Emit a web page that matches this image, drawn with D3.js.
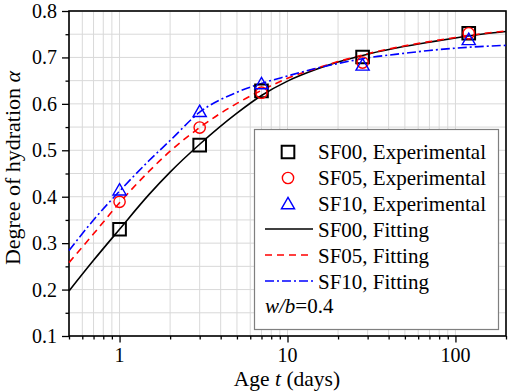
<!DOCTYPE html>
<html lang="en">
<head>
<meta charset="UTF-8">
<title>Degree of hydration</title>
<script src="https://d3js.org/d3.v7.min.js"></script>
<style>
  body { margin: 0; background: #fff; }
  text { font-family: "Liberation Serif", "Times New Roman", serif; fill: #000; }
  .grid line { stroke: #d9d9d9; stroke-width: 1; }
</style>
</head>
<body>
<svg id="chart" width="510" height="392"></svg>
<script>
// experimental ages (days) and measured values
const expAges = [1, 3, 7, 28, 120];
const sf00Exp = [0.330, 0.511, 0.628, 0.701, 0.752];
const sf05Exp = [0.389, 0.549, 0.624, 0.689, 0.752];
const sf10Exp = [0.414, 0.583, 0.643, 0.683, 0.738];

// fitting curves
const fitAges = [0.5, 0.7, 1, 1.5, 2, 3, 5, 7, 10, 15, 20, 30, 50, 70, 100, 150, 200];
const sf00Fit = [0.197, 0.263, 0.330, 0.405, 0.453, 0.513, 0.580, 0.618, 0.649, 0.675, 0.690, 0.707, 0.724, 0.733, 0.742, 0.751, 0.756];
const sf05Fit = [0.258, 0.320, 0.387, 0.455, 0.498, 0.549, 0.601, 0.629, 0.655, 0.677, 0.691, 0.708, 0.725, 0.734, 0.743, 0.752, 0.757];
const sf10Fit = [0.284, 0.350, 0.412, 0.478, 0.521, 0.582, 0.625, 0.644, 0.660, 0.677, 0.687, 0.699, 0.709, 0.715, 0.720, 0.724, 0.726];

const yTicks = [0.1, 0.2, 0.3, 0.4, 0.5, 0.6, 0.7, 0.8];
const xTickLabels = [1, 10, 100];

const mLeft = 69, mRight = 506, mTop = 11, mBottom = 336;
const svg = d3.select("#chart");

const x = d3.scaleLog().domain([0.5, 200]).range([mLeft, mRight]);
const y = d3.scaleLinear().domain([0.1, 0.8]).range([mBottom, mTop]);

// minor x positions: every integer step in each decade
const xMinor = [];
[0.1, 1, 10, 100].forEach(d => {
    for (let k = 1; k <= 9; k++) {
        const v = +(d * k).toPrecision(3);
        if (v >= 0.5 && v <= 200) xMinor.push(v);
    }
});
const yMinor = d3.range(0.1, 0.801, 0.05).map(v => +v.toFixed(2));

// grid
const grid = svg.append("g").attr("class", "grid");
grid.selectAll(".gx").data(xMinor).enter().append("line")
    .attr("x1", d => x(d)).attr("x2", d => x(d))
    .attr("y1", mTop).attr("y2", mBottom);
grid.selectAll(".gy").data(yMinor).enter().append("line")
    .attr("x1", mLeft).attr("x2", mRight)
    .attr("y1", d => y(d)).attr("y2", d => y(d));

// axes
const xAxis = svg.append("g").attr("transform", `translate(0,${mBottom})`)
    .call(d3.axisBottom(x).tickValues(xMinor).tickSize(3.5).tickFormat(""));
xAxis.selectAll(".tick line").attr("stroke-width", 1.3)
    .filter(d => xTickLabels.includes(d)).attr("y2", 6.5);
xAxis.select(".domain").remove();
svg.selectAll(".xlab").data(xTickLabels).enter().append("text")
    .attr("x", d => x(d)).attr("y", 362)
    .attr("text-anchor", "middle").attr("font-size", 20)
    .text(d => d);

const yAxis = svg.append("g").attr("transform", `translate(${mLeft},0)`)
    .call(d3.axisLeft(y).tickValues(yMinor).tickSize(3.5).tickFormat(""));
yAxis.selectAll(".tick line").attr("stroke-width", 1.3)
    .filter(d => yTicks.some(t => Math.abs(t - d) < 1e-6)).attr("x2", -7);
yAxis.select(".domain").remove();
svg.selectAll(".ylab").data(yTicks).enter().append("text")
    .attr("x", 57).attr("y", d => y(d) + 7)
    .attr("text-anchor", "end").attr("font-size", 20)
    .text(d => d.toFixed(1));

// frame
svg.append("rect").attr("x", mLeft).attr("y", mTop)
    .attr("width", mRight - mLeft).attr("height", mBottom - mTop)
    .attr("fill", "none").attr("stroke", "#000").attr("stroke-width", 1.6);

// axis titles
const xt = svg.append("text").attr("x", 287).attr("y", 386)
    .attr("text-anchor", "middle").attr("font-size", 21.5);
xt.append("tspan").text("Age ");
xt.append("tspan").attr("font-style", "italic").text("t");
xt.append("tspan").text(" (days)");

const yt = svg.append("text")
    .attr("transform", "translate(19.5,168) rotate(-90)")
    .attr("text-anchor", "middle").attr("font-size", 22);
yt.append("tspan").text("Degree of hydration ");
yt.append("tspan").attr("font-style", "italic").text("α");

// curves
const fits = [
    { vals: sf00Fit, color: "#000", dash: null },
    { vals: sf05Fit, color: "#ff0000", dash: "7,5" },
    { vals: sf10Fit, color: "#0000ff", dash: "9,3,2,3" }
];
const line = d3.line().x(d => x(d[0])).y(d => y(d[1])).curve(d3.curveMonotoneX);
const plot = svg.append("g");
fits.forEach(f => {
    plot.append("path")
        .datum(fitAges.map((a, i) => [a, f.vals[i]]))
        .attr("d", line)
        .attr("fill", "none")
        .attr("stroke", f.color)
        .attr("stroke-width", 1.6)
        .attr("stroke-dasharray", f.dash);
});

// markers
const sq = d3.symbol().type(d3.symbolSquare).size(160);
const ci = d3.symbol().type(d3.symbolCircle).size(100);
const tr = d3.symbol().type(d3.symbolTriangle).size(75);
const exps = [
    { vals: sf00Exp, color: "#000", sym: sq, sw: 2, dy: 0 },
    { vals: sf05Exp, color: "#ff0000", sym: ci, sw: 1.4, dy: 0 },
    { vals: sf10Exp, color: "#0000ff", sym: tr, sw: 1.4, dy: 1 }
];
exps.forEach(e => {
    plot.selectAll(null).data(expAges.map((a, i) => [a, e.vals[i]])).enter()
        .append("path")
        .attr("d", e.sym)
        .attr("transform", d => `translate(${x(d[0])},${y(d[1]) + e.dy})`)
        .attr("fill", "none").attr("stroke", e.color).attr("stroke-width", e.sw);
});

// legend
const lg = svg.append("g");
lg.append("rect").attr("x", 254.5).attr("y", 129.5).attr("width", 244).attr("height", 200)
    .attr("fill", "#fff").attr("stroke", "#7f7f7f").attr("stroke-width", 1.2);
const rowY = [152, 178, 204, 230, 256, 282];
const legNames = ["SF00, Experimental", "SF05, Experimental", "SF10, Experimental",
                  "SF00, Fitting", "SF05, Fitting", "SF10, Fitting"];
exps.forEach((e, i) => {
    lg.append("path").attr("d", e.sym)
        .attr("transform", `translate(288,${rowY[i] + e.dy})`)
        .attr("fill", "none").attr("stroke", e.color).attr("stroke-width", e.sw);
});
fits.forEach((f, i) => {
    lg.append("line").attr("x1", 265).attr("x2", 313)
        .attr("y1", rowY[i + 3] - 1).attr("y2", rowY[i + 3] - 1)
        .attr("stroke", f.color).attr("stroke-width", 1.6)
        .attr("stroke-dasharray", f.dash);
});
lg.selectAll(".lt").data(legNames).enter().append("text")
    .attr("x", 318).attr("y", (d, i) => rowY[i] + 6.5)
    .attr("font-size", 21).text(d => d);
const wb = lg.append("text").attr("x", 265).attr("y", 313).attr("font-size", 21);
wb.append("tspan").attr("font-style", "italic").text("w/b");
wb.append("tspan").text("=0.4");
</script>
</body>
</html>
